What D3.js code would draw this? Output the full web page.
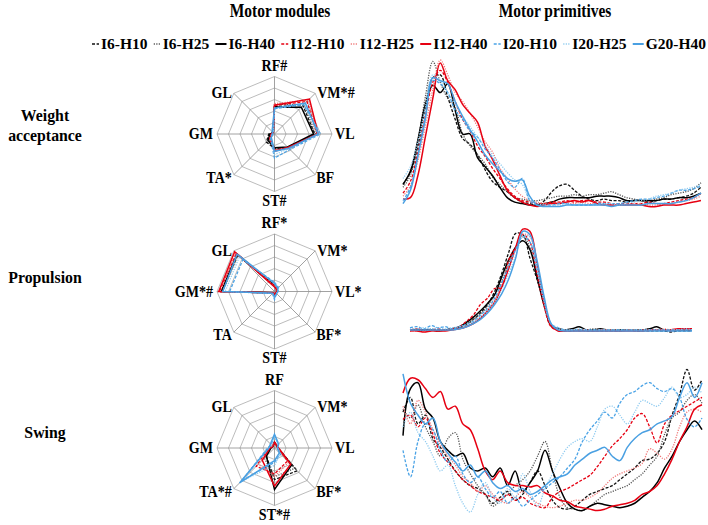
<!DOCTYPE html>
<html>
<head>
<meta charset="utf-8">
<script src="https://cdn.jsdelivr.net/npm/d3@7"></script>
<style>
  body { margin: 0; background: #fff; }
  svg { display: block; }
  text { font-family: "Liberation Serif", "Times New Roman", serif; font-weight: bold; fill: #000; }
</style>
</head>
<body>
<svg width="708" height="525"></svg>
<script>
// ---- data ----
const seriesNames = ['I6-H10', 'I6-H25', 'I6-H40', 'I12-H10', 'I12-H25', 'I12-H40', 'I20-H10', 'I20-H25', 'G20-H40'];
const muscles = ['RF', 'VM', 'VL', 'BF', 'ST', 'TA', 'GM', 'GL'];
const synergyNames = [['Weight', 'acceptance'], ['Propulsion'], ['Swing']];

const axisLabelsWA = ['RF#', 'VM*#', 'VL', 'BF', 'ST#', 'TA*', 'GM', 'GL'];
const axisLabelsP = ['RF*', 'VM*', 'VL*', 'BF*', 'ST#', 'TA', 'GM*#', 'GL'];
const axisLabelsS = ['RF', 'VM*', 'VL', 'BF*', 'ST*#', 'TA*#', 'GM', 'GL'];

// motor modules (RF, VM, VL, BF, ST, TA, GM, GL), one row per series
const modulesWA = [
  [0.48, 0.70, 0.70, 0.34, 0.25, 0.20, 0.10, 0.04],
  [0.52, 0.72, 0.72, 0.36, 0.26, 0.14, 0.06, 0.04],
  [0.47, 0.66, 0.68, 0.32, 0.24, 0.16, 0.08, 0.03],
  [0.50, 0.80, 0.74, 0.34, 0.28, 0.12, 0.06, 0.04],
  [0.53, 0.83, 0.75, 0.36, 0.28, 0.10, 0.05, 0.03],
  [0.50, 0.86, 0.76, 0.33, 0.30, 0.10, 0.05, 0.03],
  [0.44, 0.72, 0.80, 0.38, 0.42, 0.10, 0.04, 0.03],
  [0.45, 0.74, 0.78, 0.36, 0.36, 0.08, 0.04, 0.03],
  [0.45, 0.76, 0.76, 0.35, 0.30, 0.08, 0.03, 0.06]
];
const modulesP = [
  [0.10, 0.06, 0.04, 0.04, 0.06, 0.04, 0.92, 0.90],
  [0.12, 0.06, 0.04, 0.04, 0.06, 0.04, 0.90, 0.90],
  [0.10, 0.05, 0.04, 0.04, 0.06, 0.03, 0.93, 0.92],
  [0.10, 0.06, 0.05, 0.04, 0.07, 0.04, 0.96, 0.94],
  [0.09, 0.06, 0.04, 0.04, 0.06, 0.04, 0.94, 0.96],
  [0.08, 0.05, 0.04, 0.03, 0.05, 0.03, 0.97, 0.98],
  [0.16, 0.10, 0.06, 0.05, 0.14, 0.05, 0.78, 0.78],
  [0.14, 0.08, 0.05, 0.05, 0.12, 0.05, 0.86, 0.86],
  [0.14, 0.08, 0.06, 0.05, 0.10, 0.04, 0.90, 0.92]
];
const modulesS = [
  [0.10, 0.06, 0.06, 0.56, 0.55, 0.20, 0.08, 0.04],
  [0.10, 0.06, 0.05, 0.50, 0.50, 0.25, 0.08, 0.05],
  [0.10, 0.05, 0.06, 0.42, 0.72, 0.20, 0.06, 0.04],
  [0.10, 0.05, 0.06, 0.32, 0.45, 0.45, 0.10, 0.05],
  [0.10, 0.05, 0.05, 0.35, 0.50, 0.40, 0.10, 0.05],
  [0.10, 0.06, 0.07, 0.40, 0.66, 0.30, 0.08, 0.04],
  [0.22, 0.10, 0.06, 0.15, 0.25, 0.80, 0.12, 0.08],
  [0.20, 0.08, 0.05, 0.15, 0.30, 0.82, 0.10, 0.06],
  [0.24, 0.10, 0.05, 0.12, 0.22, 0.86, 0.10, 0.10]
];

// gait cycle samples (%), every 2.5 %
const cyclePct = d3.range(0, 100.01, 2.5);

// motor primitives, one row per series, values at cyclePct
const primitivesWA = [
  [0.16,0.24,0.42,0.68,0.88,0.90,0.75,0.60,0.47,0.43,0.36,0.26,0.18,0.14,0.11,0.07,0.04,0.03,0.02,0.05,0.11,0.15,0.16,0.12,0.08,0.06,0.05,0.06,0.05,0.05,0.04,0.05,0.05,0.04,0.05,0.06,0.06,0.07,0.08,0.10,0.14],
  [0.14,0.22,0.45,0.75,0.99,0.85,0.74,0.68,0.50,0.42,0.36,0.30,0.21,0.16,0.11,0.07,0.06,0.05,0.05,0.06,0.07,0.08,0.08,0.09,0.08,0.09,0.09,0.10,0.11,0.09,0.07,0.06,0.05,0.05,0.06,0.07,0.09,0.10,0.11,0.13,0.17],
  [0.16,0.25,0.46,0.70,0.83,0.78,0.84,0.66,0.50,0.50,0.34,0.28,0.22,0.14,0.07,0.04,0.03,0.02,0.02,0.03,0.04,0.06,0.07,0.07,0.07,0.07,0.08,0.08,0.08,0.07,0.05,0.05,0.05,0.05,0.05,0.06,0.06,0.07,0.07,0.08,0.10],
  [0.10,0.18,0.38,0.62,0.85,0.93,0.85,0.72,0.60,0.52,0.42,0.35,0.27,0.20,0.13,0.08,0.05,0.04,0.03,0.03,0.04,0.04,0.05,0.04,0.05,0.05,0.04,0.04,0.03,0.03,0.03,0.03,0.03,0.04,0.03,0.03,0.04,0.05,0.06,0.07,0.10],
  [0.08,0.15,0.32,0.55,0.80,1.00,0.90,0.78,0.72,0.64,0.55,0.45,0.38,0.27,0.20,0.13,0.08,0.05,0.04,0.03,0.03,0.04,0.03,0.03,0.04,0.03,0.03,0.03,0.02,0.02,0.02,0.03,0.03,0.02,0.02,0.03,0.03,0.04,0.05,0.06,0.08],
  [0.06,0.07,0.22,0.48,0.74,0.98,0.86,0.80,0.70,0.64,0.58,0.42,0.33,0.22,0.12,0.07,0.04,0.02,0.01,0.02,0.03,0.03,0.04,0.05,0.04,0.05,0.03,0.02,0.02,0.02,0.02,0.02,0.02,0.01,0.01,0.02,0.02,0.02,0.03,0.04,0.05],
  [0.05,0.14,0.36,0.62,0.86,0.84,0.78,0.66,0.60,0.52,0.48,0.40,0.34,0.26,0.18,0.14,0.20,0.05,0.02,0.02,0.02,0.03,0.03,0.02,0.02,0.02,0.03,0.03,0.03,0.03,0.04,0.05,0.06,0.06,0.07,0.08,0.10,0.12,0.12,0.13,0.15],
  [0.20,0.28,0.45,0.68,0.90,0.86,0.78,0.70,0.62,0.55,0.48,0.42,0.36,0.30,0.24,0.19,0.16,0.06,0.03,0.02,0.02,0.02,0.03,0.02,0.03,0.02,0.02,0.03,0.03,0.02,0.03,0.04,0.05,0.06,0.08,0.09,0.10,0.12,0.13,0.14,0.16],
  [0.03,0.12,0.35,0.60,0.88,0.86,0.84,0.72,0.62,0.53,0.45,0.36,0.30,0.25,0.20,0.18,0.19,0.08,0.02,0.01,0.01,0.01,0.02,0.02,0.02,0.02,0.02,0.02,0.01,0.02,0.02,0.02,0.02,0.03,0.03,0.03,0.03,0.04,0.05,0.07,0.10]
];
const primitivesP = [
  [0.02,0.02,0.02,0.02,0.02,0.02,0.03,0.04,0.07,0.12,0.18,0.26,0.38,0.55,0.75,0.93,0.92,0.70,0.50,0.28,0.06,0.02,0.01,0.01,0.02,0.01,0.01,0.01,0.01,0.01,0.01,0.02,0.01,0.01,0.01,0.01,0.01,0.00,0.01,0.01,0.01],
  [0.02,0.03,0.02,0.03,0.02,0.02,0.03,0.05,0.08,0.12,0.17,0.24,0.35,0.48,0.64,0.80,0.90,0.80,0.55,0.28,0.07,0.03,0.02,0.02,0.02,0.02,0.03,0.02,0.02,0.02,0.02,0.02,0.02,0.02,0.03,0.02,0.02,0.02,0.02,0.02,0.02],
  [0.02,0.02,0.02,0.02,0.01,0.02,0.03,0.05,0.09,0.14,0.20,0.27,0.35,0.52,0.68,0.80,0.86,0.78,0.52,0.26,0.06,0.03,0.02,0.03,0.05,0.02,0.02,0.03,0.02,0.02,0.02,0.02,0.02,0.02,0.03,0.05,0.02,0.02,0.02,0.02,0.02],
  [0.02,0.03,0.02,0.02,0.03,0.02,0.03,0.05,0.10,0.16,0.26,0.32,0.41,0.42,0.68,0.80,0.92,0.85,0.55,0.25,0.05,0.02,0.01,0.02,0.01,0.02,0.01,0.02,0.02,0.01,0.01,0.02,0.01,0.02,0.01,0.02,0.02,0.01,0.02,0.02,0.02],
  [0.01,0.01,0.01,0.01,0.01,0.02,0.02,0.03,0.05,0.09,0.14,0.20,0.30,0.44,0.60,0.78,0.92,0.90,0.62,0.30,0.08,0.02,0.02,0.01,0.02,0.02,0.01,0.02,0.02,0.02,0.01,0.02,0.02,0.01,0.02,0.02,0.03,0.02,0.02,0.02,0.03],
  [0.01,0.01,0.00,0.01,0.01,0.01,0.02,0.03,0.05,0.08,0.13,0.20,0.28,0.42,0.60,0.80,0.97,0.95,0.65,0.30,0.06,0.01,0.01,0.01,0.01,0.01,0.01,0.01,0.01,0.01,0.01,0.01,0.01,0.01,0.02,0.02,0.02,0.02,0.03,0.03,0.03],
  [0.04,0.05,0.03,0.06,0.04,0.05,0.03,0.05,0.07,0.10,0.16,0.22,0.32,0.46,0.62,0.78,0.90,0.85,0.60,0.30,0.08,0.04,0.02,0.02,0.02,0.02,0.02,0.02,0.02,0.02,0.02,0.02,0.02,0.02,0.02,0.02,0.02,0.02,0.02,0.02,0.02],
  [0.03,0.03,0.04,0.03,0.04,0.03,0.04,0.05,0.07,0.10,0.14,0.20,0.28,0.40,0.55,0.72,0.90,0.90,0.62,0.30,0.08,0.03,0.02,0.02,0.03,0.02,0.02,0.02,0.02,0.02,0.02,0.02,0.02,0.02,0.02,0.02,0.02,0.02,0.02,0.03,0.02],
  [0.02,0.02,0.02,0.02,0.02,0.02,0.02,0.03,0.05,0.08,0.12,0.18,0.26,0.36,0.50,0.70,0.95,0.92,0.68,0.34,0.08,0.02,0.01,0.01,0.01,0.01,0.01,0.01,0.01,0.01,0.01,0.01,0.01,0.01,0.01,0.01,0.01,0.01,0.01,0.01,0.01]
];
const primitivesS = [
  [0.70,0.80,0.62,0.68,0.52,0.46,0.38,0.30,0.24,0.20,0.18,0.14,0.08,0.12,0.16,0.10,0.14,0.22,0.30,0.20,0.10,0.05,0.04,0.06,0.10,0.14,0.16,0.18,0.20,0.24,0.28,0.32,0.37,0.38,0.42,0.50,0.68,0.82,0.99,0.85,0.92],
  [0.72,0.66,0.75,0.60,0.50,0.40,0.52,0.56,0.38,0.28,0.20,0.14,0.06,0.10,0.14,0.20,0.24,0.30,0.40,0.50,0.30,0.12,0.05,0.04,0.03,0.06,0.10,0.14,0.16,0.18,0.20,0.24,0.28,0.34,0.40,0.55,0.66,0.70,0.78,0.82,0.76],
  [0.54,0.86,0.90,0.72,0.66,0.50,0.44,0.40,0.42,0.32,0.30,0.32,0.26,0.32,0.20,0.30,0.16,0.22,0.30,0.44,0.30,0.18,0.08,0.04,0.03,0.06,0.08,0.07,0.06,0.05,0.06,0.08,0.12,0.16,0.22,0.32,0.40,0.50,0.58,0.64,0.58],
  [0.65,0.68,0.60,0.66,0.55,0.42,0.36,0.30,0.24,0.20,0.16,0.14,0.12,0.10,0.14,0.10,0.12,0.08,0.06,0.05,0.12,0.16,0.18,0.21,0.24,0.27,0.33,0.40,0.47,0.52,0.58,0.66,0.69,0.60,0.49,0.62,0.68,0.71,0.74,0.77,0.80],
  [0.74,0.62,0.78,0.70,0.58,0.48,0.40,0.34,0.26,0.22,0.16,0.20,0.14,0.10,0.08,0.12,0.16,0.12,0.08,0.06,0.05,0.06,0.08,0.10,0.10,0.12,0.15,0.20,0.25,0.28,0.30,0.32,0.35,0.45,0.42,0.38,0.45,0.60,0.70,0.72,0.70],
  [0.83,0.93,0.92,0.86,0.80,0.84,0.72,0.74,0.62,0.58,0.45,0.30,0.24,0.30,0.22,0.20,0.20,0.19,0.20,0.15,0.13,0.10,0.09,0.06,0.05,0.04,0.03,0.04,0.06,0.07,0.08,0.10,0.14,0.16,0.20,0.28,0.38,0.50,0.60,0.72,0.75],
  [0.44,0.26,0.50,0.62,0.58,0.44,0.36,0.40,0.28,0.22,0.26,0.18,0.12,0.16,0.08,0.12,0.06,0.10,0.14,0.18,0.22,0.26,0.32,0.38,0.50,0.58,0.64,0.70,0.66,0.76,0.82,0.84,0.88,0.90,0.86,0.84,0.86,0.80,0.65,0.60,0.66],
  [0.60,0.70,0.56,0.50,0.40,0.30,0.34,0.20,0.08,0.02,0.14,0.22,0.12,0.08,0.18,0.12,0.28,0.16,0.06,0.18,0.28,0.38,0.46,0.50,0.52,0.50,0.60,0.72,0.74,0.68,0.62,0.70,0.78,0.76,0.74,0.80,0.87,0.80,0.82,0.87,0.83],
  [0.96,0.76,0.68,0.62,0.66,0.50,0.42,0.36,0.30,0.34,0.26,0.30,0.22,0.18,0.20,0.16,0.18,0.14,0.16,0.20,0.24,0.26,0.28,0.34,0.38,0.42,0.44,0.46,0.40,0.37,0.46,0.52,0.56,0.58,0.62,0.64,0.67,0.80,0.90,0.80,0.90]
];

// ---- styles ----
const seriesColors = ['#111', '#555', '#000', '#e60012', '#f07878', '#e60012', '#4aa3e6', '#8fcbf0', '#4aa0e2'];
const seriesDash = ['3,1.6', '1.2,1.3', null, '3,1.6', '1.2,1.3', null, '3,1.6', '1.2,1.3', null];
const seriesWidth = [1.3, 1.3, 1.5, 1.3, 1.3, 1.5, 1.3, 1.3, 1.5];

const svg = d3.select('svg');

function addText(x, y, str, size, anchor, sx) {
  return svg.append('text')
      .attr('transform', `translate(${x},${y}) scale(${sx || 1},1)`)
      .attr('text-anchor', anchor || 'middle')
      .style('font-size', size + 'px')
      .text(str);
}

function styleLine(sel) {
  sel.attr('fill', 'none')
      .attr('stroke', (d, i) => seriesColors[i])
      .attr('stroke-width', (d, i) => seriesWidth[i])
      .attr('stroke-dasharray', (d, i) => seriesDash[i]);
}

// titles
addText(280, 17, 'Motor modules', 18, 'middle', 0.86);
addText(555, 17, 'Motor primitives', 18, 'middle', 0.86);

// legend
const legend = svg.append('g');
let lx = 92;
const legendItems = seriesNames.map((name, i) => {
  const g = legend.append('g');
  const len = seriesDash[i] ? 7 : 11;
  g.append('line')
      .attr('x1', 0).attr('x2', len).attr('y1', 0).attr('y2', 0)
      .attr('stroke', seriesColors[i])
      .attr('stroke-width', seriesDash[i] ? 1.3 : 2)
      .attr('stroke-dasharray', seriesDash[i]);
  const t = g.append('text')
      .attr('x', len + 2).attr('y', 5)
      .style('font-size', '15.5px')
      .text(name);
  return { g, w: len + 2 + t.node().getComputedTextLength() };
});
const totalW = d3.sum(legendItems, d => d.w);
const gap = (706 - 92 - totalW) / (legendItems.length - 1);
legendItems.forEach(d => {
  d.g.attr('transform', `translate(${lx},44)`);
  lx += d.w + gap;
});

// row labels
const rowLabelY = [[121, 141], [283], [438]];
synergyNames.forEach((lines, r) => {
  lines.forEach((s, k) => addText(45, rowLabelY[r][k], s, 17, 'middle', 0.93));
});

// motor modules: radar charts
const radarR = 57.5;
const rScale = d3.scaleLinear().domain([0, 1]).range([0, radarR]);
const angle = i => i * Math.PI / 4;
const ringLine = d3.lineRadial()
    .angle((d, i) => angle(i))
    .radius(d => rScale(d))
    .curve(d3.curveLinearClosed);

function drawRadar(cx, cy, modules, labels) {
  const g = svg.append('g').attr('transform', `translate(${cx},${cy})`);
  [0.2, 0.4, 0.6, 0.8, 1].forEach(level => {
    g.append('path')
        .attr('d', ringLine(muscles.map(() => level)))
        .attr('fill', 'none')
        .attr('stroke', '#b4b4b4')
        .attr('stroke-width', 0.9);
  });
  muscles.forEach((m, i) => {
    const a = angle(i);
    g.append('line')
        .attr('x1', 0).attr('y1', 0)
        .attr('x2', rScale(1) * Math.sin(a))
        .attr('y2', -rScale(1) * Math.cos(a))
        .attr('stroke', '#8a8a8a')
        .attr('stroke-width', 0.8);
  });
  g.selectAll('path.series')
      .data(modules)
      .enter()
      .append('path')
      .attr('class', 'series')
      .attr('d', d => ringLine(d))
      .call(styleLine);

  const R = rScale(1);
  const d45 = R * Math.SQRT1_2;
  const spots = [
    [0, -R - 6, 'middle'],
    [d45 + 2, -d45 + 5, 'start'],
    [R + 3, 5, 'start'],
    [d45 + 1, d45 + 8, 'start'],
    [0, R + 14, 'middle'],
    [-d45 - 2, d45 + 8, 'end'],
    [-R - 4, 5, 'end'],
    [-d45 - 2, -d45 + 5, 'end']
  ];
  labels.forEach((s, i) => {
    addText(cx + spots[i][0], cy + spots[i][1], s, 16, spots[i][2], 0.88);
  });
}

drawRadar(274.5, 134, modulesWA, axisLabelsWA);
drawRadar(274.5, 291.5, modulesP, axisLabelsP);
drawRadar(274.5, 448, modulesS, axisLabelsS);

// motor primitives: line charts (no axes)
function drawPrimitives(x0, x1, yBase, yTop, data) {
  const x = d3.scaleLinear().domain([0, 100]).range([x0, x1]);
  const y = d3.scaleLinear().domain([0, 1]).range([yBase, yTop]);
  const line = d3.line()
      .x((d, i) => x(cyclePct[i]))
      .y(d => y(d))
      .curve(d3.curveCatmullRom.alpha(0.5));
  svg.append('g')
      .selectAll('path')
      .data(data)
      .enter()
      .append('path')
      .attr('d', d => line(d))
      .call(styleLine);
}

drawPrimitives(403, 701, 208, 60, primitivesWA);
drawPrimitives(410, 692, 332, 226, primitivesP);
drawPrimitives(403, 702, 515, 368, primitivesS);
</script>
</body>
</html>
